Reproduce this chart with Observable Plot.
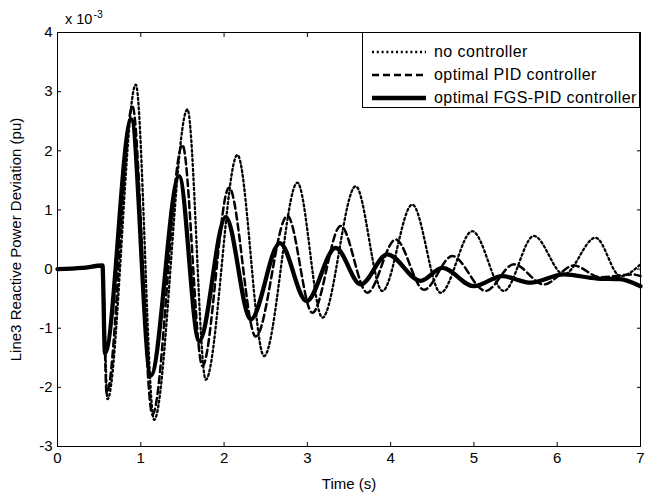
<!DOCTYPE html>
<html>
<head>
<meta charset="utf-8">
<script src="https://cdn.jsdelivr.net/npm/d3@7"></script>
<script src="https://cdn.jsdelivr.net/npm/@observablehq/plot@0.6"></script>
<style>
  body { margin: 0; background: #fff; }
  #wrap { position: relative; width: 645px; height: 495px; font-family: "Liberation Sans", Arial, sans-serif; color: #000; }
  #wrap svg text { font-size: 15px; }
  #mult { position: absolute; left: 65px; top: 9px; font-size: 14.5px; line-height: 1; }
  #mult sup { font-size: 10.5px; vertical-align: 6px; margin-left: 1px; }
  #legend { position: absolute; left: 362px; top: 32px; width: 278px; height: 76px; border: 1px solid #000; background: #fff; box-sizing: border-box; }
  .lg-row { position: absolute; left: 0; height: 20px; display: flex; align-items: center; }
  .lg-row svg { margin-left: 9px; }
  .lg-row span { margin-left: 8px; font-size: 16px; letter-spacing: 0.45px; white-space: nowrap; }
</style>
</head>
<body>
<div id="wrap"></div>
<script>
// ---- data (values in units of 1e-3 pu) ----
const seriesNames = ["no controller", "optimal PID controller", "optimal FGS-PID controller"];

const tNone = [0, 0.3, 0.54, 0.6, 0.94, 1.16, 1.56, 1.78, 2.16, 2.48, 2.88, 3.18, 3.58, 3.9, 4.26, 4.6, 4.98, 5.36, 5.72, 6.08, 6.46, 6.76, 7.0];
const vNone = [0, 0.02, 0.05, -2.2, 3.12, -2.55, 2.7, -1.87, 1.93, -1.47, 1.46, -0.82, 1.4, -0.37, 1.09, -0.4, 0.64, -0.37, 0.56, -0.09, 0.53, -0.12, 0.08];

const tPID = [0, 0.3, 0.54, 0.59, 0.9, 1.14, 1.5, 1.74, 2.06, 2.38, 2.76, 3.06, 3.4, 3.72, 4.06, 4.4, 4.74, 5.14, 5.48, 5.84, 6.2, 6.52, 6.9, 7.0];
const vPID = [0, 0.02, 0.05, -2.1, 2.75, -2.46, 2.1, -1.64, 1.38, -1.14, 0.9, -0.74, 0.73, -0.4, 0.5, -0.35, 0.22, -0.37, 0.08, -0.26, 0.06, -0.14, -0.09, -0.12];

const tFGS = [0, 0.3, 0.54, 0.57, 0.885, 1.12, 1.46, 1.7, 2.02, 2.32, 2.67, 2.99, 3.34, 3.64, 3.96, 4.36, 4.62, 5.0, 5.34, 5.68, 6.08, 6.48, 6.75, 7.0];
const vFGS = [0, 0.02, 0.06, -1.42, 2.53, -1.8, 1.57, -1.22, 0.88, -0.85, 0.44, -0.54, 0.36, -0.26, 0.25, -0.2, 0.02, -0.29, -0.12, -0.23, -0.09, -0.16, -0.17, -0.29];

const xTicks = [0, 1, 2, 3, 4, 5, 6, 7];
const yTicks = [-3, -2, -1, 0, 1, 2, 3, 4];

const series = [
  {name: seriesNames[0], t: tNone, v: vNone, width: 2.3, dash: "2,2.8"},
  {name: seriesNames[1], t: tPID, v: vPID, width: 2.5, dash: "7,4"},
  {name: seriesNames[2], t: tFGS, v: vFGS, width: 4.3, dash: null}
];
const toRows = s => s.t.map((t, i) => ({t, v: s.v[i]}));

const lineMarks = series.map(s => Plot.line(toRows(s), {
  x: "t", y: "v", curve: "monotone-x", stroke: "#000",
  strokeWidth: s.width, strokeDasharray: s.dash, strokeLinejoin: "round"
}));

const chart = Plot.plot({
  width: 645,
  height: 495,
  marginTop: 32,
  marginRight: 5,
  marginBottom: 49,
  marginLeft: 57,
  style: {fontFamily: "'Liberation Sans', Arial, sans-serif", fontSize: "15px", background: "#fff", color: "#000"},
  x: {domain: [0, 7]},
  y: {domain: [-3, 4]},
  marks: [
    Plot.frame({stroke: "#000", strokeWidth: 1}),
    ...lineMarks,
    Plot.axisX({anchor: "bottom", ticks: xTicks, tickSize: -4, tickPadding: 10, tickFormat: d => String(d),
      label: "Time (s)", labelAnchor: "center", labelArrow: "none", labelOffset: 42, fontSize: 15}),
    Plot.axisX({anchor: "top", ticks: xTicks, tickSize: -4, tickFormat: () => "", label: null}),
    Plot.axisY({anchor: "left", ticks: yTicks, tickSize: -4, tickPadding: 9, tickFormat: d => String(d),
      label: "Line3 Reactive Power Deviation (pu)", labelAnchor: "center", labelArrow: "none", labelOffset: 47, fontSize: 15}),
    Plot.axisY({anchor: "right", ticks: yTicks, tickSize: -4, tickFormat: () => "", label: null})
  ]
});

const wrap = document.getElementById("wrap");
wrap.appendChild(chart);

// multiplier
const mult = document.createElement("div");
mult.id = "mult";
mult.innerHTML = "x 10<sup>-3</sup>";
wrap.appendChild(mult);

// legend
const legend = document.createElement("div");
legend.id = "legend";
const rowTops = [9, 32, 55];
series.forEach((s, i) => {
  const row = document.createElement("div");
  row.className = "lg-row";
  row.style.top = rowTops[i] + "px";
  const ns = "http://www.w3.org/2000/svg";
  const svg = document.createElementNS(ns, "svg");
  svg.setAttribute("width", "54");
  svg.setAttribute("height", "20");
  const ln = document.createElementNS(ns, "line");
  ln.setAttribute("x1", "0"); ln.setAttribute("x2", "54");
  ln.setAttribute("y1", "10"); ln.setAttribute("y2", "10");
  ln.setAttribute("stroke", "#000");
  ln.setAttribute("stroke-width", s.width);
  if (s.dash) ln.setAttribute("stroke-dasharray", s.dash);
  svg.appendChild(ln);
  const txt = document.createElement("span");
  txt.textContent = s.name;
  row.appendChild(svg);
  row.appendChild(txt);
  legend.appendChild(row);
});
wrap.appendChild(legend);
</script>
</body>
</html>
